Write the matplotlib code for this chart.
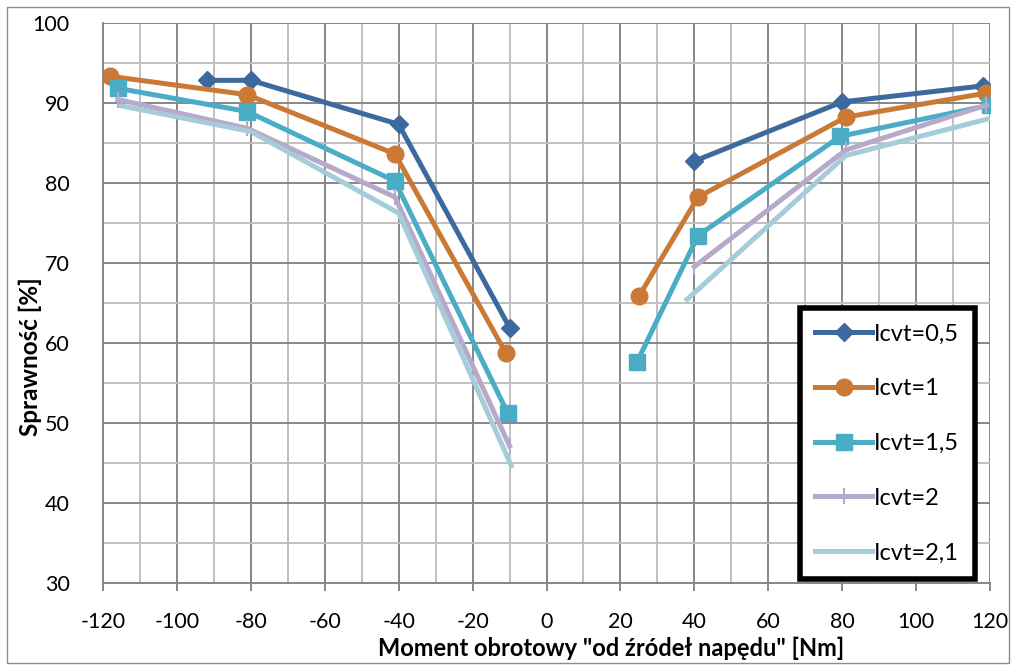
import numpy as np
import matplotlib.pyplot as plt
from matplotlib.patches import Rectangle
from matplotlib.ticker import MultipleLocator

plt.rcParams['font.family'] = ['Lato', 'DejaVu Sans']
plt.rcParams['axes.unicode_minus'] = False

nan = np.nan
# Icvt series, nan breaks the line between the braking and driving part
x_05 = [-92, -80, -40, -10, nan, 40, 80, 118]
y_05 = [92.8, 92.8, 87.3, 61.9, nan, 82.7, 90.1, 92.1]
x_1 = [-118, -81, -41, -11, nan, 25, 41, 81, 119]
y_1 = [93.3, 91.0, 83.6, 58.7, nan, 65.8, 78.2, 88.2, 91.2]
x_15 = [-116, -81, -41, -10.5, nan, 24.5, 41, 79.5, 120]
y_15 = [91.8, 88.9, 80.2, 51.2, nan, 57.6, 73.4, 85.8, 89.7]
x_2 = [-116, -81, -41, -10, nan, 40, 81, 119]
y_2 = [90.4, 86.8, 78.2, 47.1, nan, 69.5, 84.1, 89.7]
x_21 = [-115, -80, -40, -9.5, nan, 38, 81, 120.5]
y_21 = [89.6, 86.4, 76.2, 44.6, nan, 65.4, 83.4, 88.1]

fig = plt.figure(figsize=(10.16, 6.70), dpi=100)
ax = fig.add_axes([0.1014, 0.1303, 0.8730, 0.8358])

lw = 3.6
ax.plot(x_05, y_05, color='#3D6A9E', lw=lw, marker='D', ms=9, label='Icvt=0,5')
ax.plot(x_1, y_1, color='#CB7A35', lw=lw, marker='o', ms=12, label='Icvt=1')
ax.plot(x_15, y_15, color='#4BACC6', lw=lw, marker='s', ms=11, label='Icvt=1,5')
ax.plot(x_2, y_2, color='#B7A9C9', lw=lw, marker='|', ms=12, mew=1.5, label='Icvt=2')
ax.plot(x_21, y_21, color='#A5CCD9', lw=lw, label='Icvt=2,1')

ax.set_xlim(-120, 120)
ax.set_ylim(30, 100)
ax.xaxis.set_major_locator(MultipleLocator(20))
ax.xaxis.set_minor_locator(MultipleLocator(10))
ax.yaxis.set_major_locator(MultipleLocator(10))
ax.yaxis.set_minor_locator(MultipleLocator(5))
ax.grid(which='major', color='#878787', lw=1.4)
ax.grid(which='minor', color='#C0C0C0', lw=1.4)
ax.set_axisbelow(True)
for s in ['top', 'right']:
    ax.spines[s].set_visible(False)
for s in ['left', 'bottom']:
    ax.spines[s].set_color('#878787')
    ax.spines[s].set_linewidth(1.4)
ax.tick_params(axis='x', which='major', length=6, width=1.4, color='#878787', labelsize=15.5, pad=15)
ax.tick_params(axis='y', which='major', length=0, labelsize=15.5, pad=24)
ax.tick_params(which='minor', length=0)

ax.set_xlabel('Moment obrotowy "od źródeł napędu" [Nm]', fontsize=17, fontweight='bold')
ax.set_ylabel('Sprawność [%]', fontsize=17.5, fontweight='bold')
ax.xaxis.set_label_coords(0.573, -0.096)
ax.yaxis.set_label_coords(-0.069, 0.403)

leg = ax.legend(loc='upper left', bbox_to_anchor=(800 / 1016, 1 - 308 / 670),
                bbox_transform=fig.transFigure, fontsize=17, frameon=True,
                fancybox=False, framealpha=1, borderpad=0.65, labelspacing=1.43,
                handlelength=2.4, handletextpad=0.1, borderaxespad=0)
leg.get_frame().set_edgecolor('black')
leg.get_frame().set_linewidth(4)

fig.patches.append(Rectangle((7 / 1016, 7 / 670), 1002 / 1016, 656 / 670,
                             transform=fig.transFigure, fill=False,
                             edgecolor='#8C8C8C', lw=1))

plt.savefig('out.png', dpi=100)
